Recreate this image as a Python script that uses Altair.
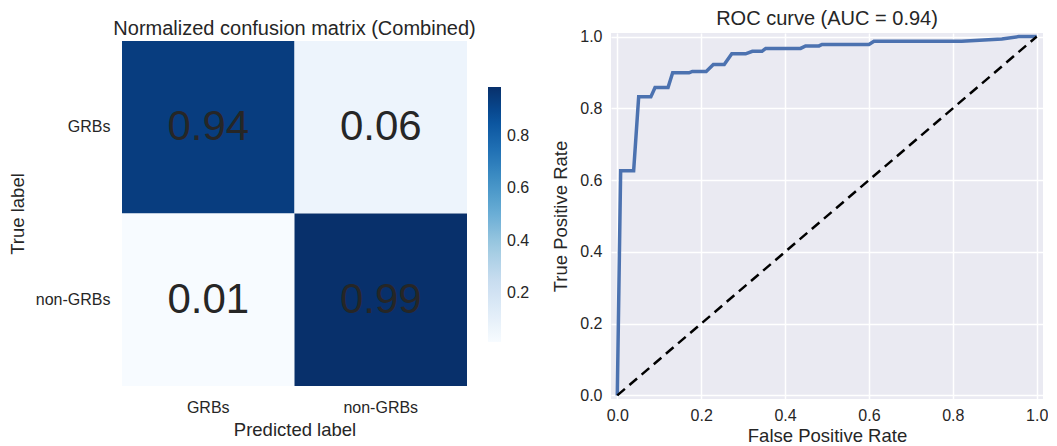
import altair as alt
import pandas as pd

# ---------------- data ----------------
classes = ["GRBs", "non-GRBs"]
true_labels = ["GRBs", "GRBs", "non-GRBs", "non-GRBs"]
pred_labels = ["GRBs", "non-GRBs", "GRBs", "non-GRBs"]
cm_values = [0.94, 0.06, 0.01, 0.99]

fpr = [0.0, 0.008, 0.039, 0.051, 0.080, 0.090, 0.121, 0.132, 0.171, 0.179,
       0.212, 0.229, 0.255, 0.273, 0.306, 0.322, 0.345, 0.354, 0.437, 0.449,
       0.481, 0.488, 0.600, 0.612, 0.821, 0.917, 0.957, 1.0]
tpr = [0.0, 0.626, 0.626, 0.832, 0.832, 0.858, 0.858, 0.899, 0.899, 0.903,
       0.903, 0.922, 0.922, 0.952, 0.952, 0.959, 0.959, 0.967, 0.967, 0.974,
       0.974, 0.978, 0.978, 0.987, 0.987, 0.993, 1.0, 1.0]
diag_x = [0.0, 1.0]
diag_y = [0.0, 1.0]

tick_vals = [0.0, 0.2, 0.4, 0.6, 0.8, 1.0]
cbar_ticks = [0.2, 0.4, 0.6, 0.8]
blues = ["#f7fbff", "#deebf7", "#c6dbef", "#9ecae1", "#6baed6",
         "#4292c6", "#2171b5", "#08519c", "#08306b"]
vmin, vmax = 0.01, 0.99

cm_df = pd.DataFrame({"true": true_labels, "pred": pred_labels, "value": cm_values})
roc_df = pd.DataFrame({"fpr": fpr, "tpr": tpr, "i": list(range(len(fpr)))})
diag_df = pd.DataFrame({"x": diag_x, "y": diag_y})

FONT = "Liberation Sans"
TXT = "#262626"
color_domain = [vmin + (vmax - vmin) * k / (len(blues) - 1) for k in range(len(blues))]

# ---------------- confusion matrix ----------------
CM_W = 345
CM_TOP = 8          # heatmap sits a little below the shared plot top
CM_H = CM_W + CM_TOP

xenc = alt.X("pred:N", sort=classes, title="Predicted label",
             axis=alt.Axis(labelAngle=0, domain=False, ticks=False,
                           labelPadding=13, titlePadding=5))
yenc = alt.Y("true:N", sort=classes, title="True label",
             scale=alt.Scale(range=[CM_TOP, CM_H]),
             axis=alt.Axis(domain=False, ticks=False, labelPadding=12, titlePadding=8))

rect = alt.Chart(cm_df).mark_rect().encode(
    x=xenc, y=yenc,
    color=alt.Color("value:Q",
                    scale=alt.Scale(domain=color_domain, range=blues, interpolate="rgb"),
                    title=None,
                    legend=alt.Legend(orient="none", legendX=366, legendY=54,
                                      gradientLength=255, gradientThickness=13,
                                      gradientStrokeWidth=0, values=cbar_ticks,
                                      labelFontSize=16, labelColor=TXT, labelFont=FONT,
                                      labelOffset=6, direction="vertical")),
)
text = alt.Chart(cm_df).mark_text(fontSize=42, font=FONT, color=TXT).encode(
    x=xenc, y=yenc, text=alt.Text("value:Q", format=".2f"))

left = (rect + text).properties(
    width=CM_W, height=CM_H,
    title=alt.TitleParams("Normalized confusion matrix (Combined)", fontSize=20,
                          font=FONT, color=TXT, fontWeight="normal", offset=-6,
                          frame="group"),
)

# ---------------- ROC ----------------
xs = alt.Scale(domain=[-0.015, 1.015], nice=False, zero=False)
ys = alt.Scale(domain=[-0.01, 1.01], nice=False, zero=False)
ax_common = dict(domain=False, ticks=False, grid=True, gridColor="white",
                 gridWidth=1.5, values=tick_vals, format=".1f")

roc = alt.Chart(roc_df).mark_line(color="#4C72B0", strokeWidth=3.5).encode(
    x=alt.X("fpr:Q", scale=xs, title="False Positive Rate",
            axis=alt.Axis(labelPadding=8, titlePadding=3, **ax_common)),
    y=alt.Y("tpr:Q", scale=ys, title="True Positive Rate",
            axis=alt.Axis(labelPadding=9, titlePadding=9, **ax_common)),
    order="i:Q",
)
diag = alt.Chart(diag_df).mark_line(color="black", strokeDash=[10, 6], strokeWidth=2.5).encode(
    x=alt.X("x:Q", scale=xs), y=alt.Y("y:Q", scale=ys))

right = (roc + diag).properties(
    width=432, height=366,
    view=alt.ViewBackground(fill="#EAEAF2", stroke=None),
    title=alt.TitleParams("ROC curve (AUC = 0.94)", fontSize=20, font=FONT,
                          color=TXT, fontWeight="normal", offset=0, frame="group"),
)

chart = alt.hconcat(left, right, spacing=21).resolve_scale(color="independent").properties(
    padding=0
).configure(font=FONT).configure_axis(
    labelFont=FONT, titleFont=FONT, labelFontSize=16, titleFontSize=18.5,
    labelColor=TXT, titleColor=TXT, titleFontWeight="normal",
).configure_view(stroke=None)

chart.save("out.html", embed_options={"renderer": "svg", "actions": False})
